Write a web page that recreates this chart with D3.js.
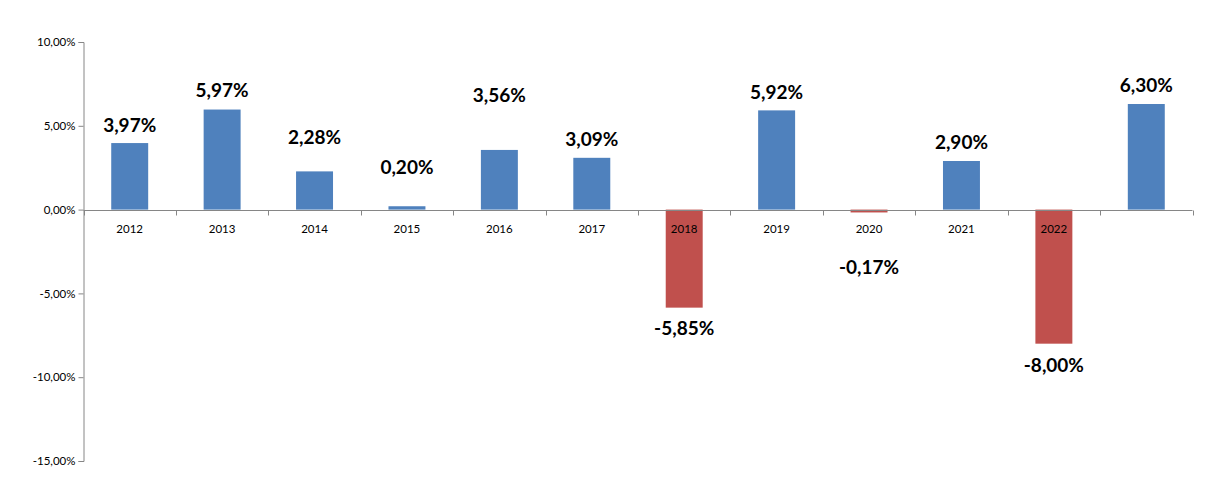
<!DOCTYPE html>
<html><head><meta charset="utf-8">
<script src="https://cdn.jsdelivr.net/npm/d3@7"></script>
<style>body{margin:0;background:#fff}svg{display:block}</style>
</head><body>
<svg id="c" width="1216" height="492"></svg>
<script>
const categories = ["2012","2013","2014","2015","2016","2017","2018","2019","2020","2021","2022",""];
const values = [3.97, 5.97, 2.28, 0.20, 3.56, 3.09, -5.85, 5.92, -0.17, 2.90, -8.00, 6.30];
// where each data label sits, in value units
const labelAt = [5.02, 7.12, 4.31, 2.51, 6.82, 4.19, -7.06, 7.0, -3.47, 4.01, -9.27, 7.42];
const yTicks = [10, 5, 0, -5, -10, -15];

(function(){
const svg = d3.select("#c");
const mLeft = 83.5, mRight = 1192.5, mTop = 42, mBottom = 461;
const x = d3.scaleBand().domain(d3.range(categories.length)).range([mLeft, mRight]).paddingInner(0.6).paddingOuter(0.3);
const xb = d3.scaleBand().domain(d3.range(categories.length)).range([mLeft, mRight]);
const y = d3.scaleLinear().domain([-15, 10]).range([mBottom, mTop]);
const fmt = v => d3.format(".2f")(v).replace(".", ",").replace("\u2212", "-") + "%";
const axisCol = "#868686";
const font = "Lato, 'Open Sans', sans-serif";

// bars
svg.append("g").selectAll("rect").data(values).join("rect")
  .attr("x", (d,i) => x(i))
  .attr("width", x.bandwidth())
  .attr("y", d => y(Math.max(0, d)))
  .attr("height", d => Math.abs(y(d) - y(0)))
  .attr("fill", d => d < 0 ? "#C0504D" : "#4F81BD");

// y axis
const ya = svg.append("g").attr("transform", `translate(${mLeft},0)`)
  .call(d3.axisLeft(y).tickValues(yTicks).tickSize(5).tickPadding(3).tickFormat(fmt));
ya.select(".domain").attr("stroke", axisCol);
ya.selectAll(".tick line").attr("stroke", axisCol);
ya.selectAll("text").attr("font-family", font).attr("font-size", 11.5).attr("fill", "#000");

// x axis at zero
const y0 = Math.round(y(0)) + 0.5;
const xa = svg.append("g");
xa.append("line").attr("x1", mLeft).attr("x2", mRight).attr("y1", y0).attr("y2", y0).attr("stroke", axisCol);
xa.selectAll("line.t").data(d3.range(categories.length + 1)).join("line").attr("class","t")
  .attr("x1", i => Math.round(mLeft + i * xb.step()) + 0.5)
  .attr("x2", i => Math.round(mLeft + i * xb.step()) + 0.5)
  .attr("y1", y0).attr("y2", y0 + 5).attr("stroke", axisCol);
xa.selectAll("text").data(categories).join("text")
  .attr("x", (d,i) => xb(i) + xb.bandwidth()/2)
  .attr("y", y0 + 22)
  .attr("text-anchor", "middle")
  .attr("font-family", font).attr("font-size", 11.5).attr("fill", "#000")
  .text(d => d);

// data labels
svg.append("g").selectAll("text").data(values).join("text")
  .attr("x", (d,i) => x(i) + x.bandwidth()/2)
  .attr("y", (d,i) => y(labelAt[i]))
  .attr("dy", "0.35em")
  .attr("text-anchor", "middle")
  .attr("font-family", font).attr("font-weight", "bold").attr("font-size", 19).attr("fill", "#000")
  .text(d => fmt(d));
})();
</script>
</body></html>
